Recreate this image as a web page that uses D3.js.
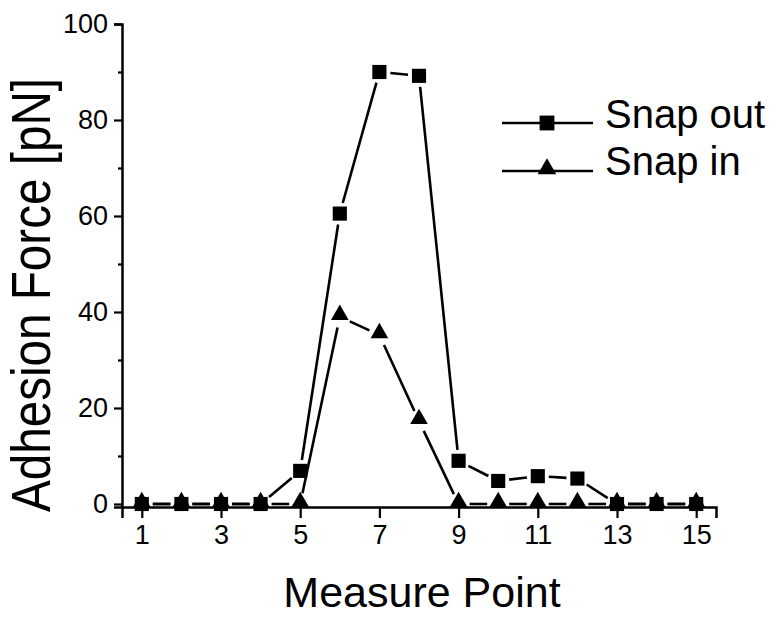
<!DOCTYPE html>
<html>
<head>
<meta charset="utf-8">
<script src="https://cdn.jsdelivr.net/npm/d3@7"></script>
<style>
  html, body { margin: 0; padding: 0; background: #fff; }
  text { font-family: "Liberation Sans", Arial, Helvetica, sans-serif; fill: #000; }
</style>
</head>
<body>
<svg id="chart" width="777" height="617"></svg>
<script>
// ---- data ----
const measurePoints = [1, 2, 3, 4, 5, 6, 7, 8, 9, 10, 11, 12, 13, 14, 15];
const snapOut = [0, 0, 0, 0, 6.9, 60.5, 90.0, 89.2, 9.0, 4.8, 5.8, 5.3, 0, 0, 0];
const snapIn  = [0, 0, 0, 0, 0, 39.0, 35.2, 17.3, 0, 0, 0, 0, 0, 0, 0];
const xTickValues = [1, 3, 5, 7, 9, 11, 13, 15];
const yMajorTicks = [0, 20, 40, 60, 80, 100];
const yMinorTicks = [10, 30, 50, 70, 90];
const seriesNames = ["Snap out", "Snap in"];

const svg = d3.select("#chart");
const W = 777, H = 617;
const margin = {left: 122, right: 61, top: 24, bottom: 110};

const x = d3.scaleLinear().domain([0.5, 15.5]).range([margin.left, W - margin.right]);
const y = d3.scaleLinear().domain([-0.625, 100]).range([H - margin.bottom, margin.top]);

const FONT = "Liberation Sans, Arial, sans-serif";

// ---- axes ----
const xAxis = d3.axisBottom(x).tickValues(xTickValues).tickSize(11).tickPadding(7).tickFormat(d3.format("d"));
const gx = svg.append("g").attr("transform", `translate(0,${y(-0.625)})`).call(xAxis);
gx.select(".domain").attr("stroke", "#000").attr("stroke-width", 2.5);
gx.selectAll(".tick line").attr("stroke", "#000").attr("stroke-width", 2.2);
gx.selectAll(".tick text").attr("font-size", 27).attr("font-family", FONT);

const yAxis = d3.axisLeft(y).tickValues(yMajorTicks).tickSize(8).tickPadding(6).tickFormat(d3.format("d"));
const gy = svg.append("g").attr("transform", `translate(${x(0.5)},0)`).call(yAxis);
gy.select(".domain").attr("stroke", "#000").attr("stroke-width", 2.5);
gy.selectAll(".tick line").attr("stroke", "#000").attr("stroke-width", 2.2);
gy.selectAll(".tick text").attr("font-size", 27).attr("font-family", FONT);

const yMinor = d3.axisLeft(y).tickValues(yMinorTicks).tickSize(4).tickFormat("");
const gym = svg.append("g").attr("transform", `translate(${x(0.5)},0)`).call(yMinor);
gym.select(".domain").remove();
gym.selectAll(".tick line").attr("stroke", "#000").attr("stroke-width", 2.2);

// ---- axis titles ----
svg.append("text")
  .attr("x", 422).attr("y", 607)
  .attr("text-anchor", "middle")
  .attr("font-size", 43)
  .text("Measure Point");

svg.append("text")
  .attr("transform", "translate(50,295) rotate(-90)")
  .attr("text-anchor", "middle")
  .attr("font-size", 56)
  .attr("textLength", 434)
  .attr("lengthAdjust", "spacingAndGlyphs")
  .text("Adhesion Force [pN]");

// ---- series lines with gaps near markers ----
const GAP = 11;
function gappedSegments(values) {
  const pts = measurePoints.map((m, i) => [x(m), y(values[i])]);
  const segs = [];
  for (let i = 0; i < pts.length - 1; i++) {
    const [x0, y0] = pts[i], [x1, y1] = pts[i + 1];
    const dx = x1 - x0, dy = y1 - y0, len = Math.hypot(dx, dy);
    if (len <= 2 * GAP) continue;
    const ux = dx / len, uy = dy / len;
    segs.push([[x0 + ux * GAP, y0 + uy * GAP], [x1 - ux * GAP, y1 - uy * GAP]]);
  }
  return segs;
}
const lineGen = d3.line();

function drawSeries(values, cls) {
  const g = svg.append("g").attr("class", cls);
  g.selectAll("path.seg").data(gappedSegments(values)).enter().append("path")
    .attr("class", "seg")
    .attr("d", d => lineGen(d))
    .attr("stroke", "#000").attr("stroke-width", 2.6).attr("fill", "none");
  return g;
}
drawSeries(snapIn, "snapin");
drawSeries(snapOut, "snapout");

// markers: triangles first, then squares on top
svg.append("g").selectAll("path").data(measurePoints).enter().append("path")
  .attr("transform", (d, i) => `translate(${x(d)},${y(snapIn[i]) - 2})`)
  .attr("d", d3.symbol().type(d3.symbolTriangle).size(135))
  .attr("fill", "#000");
svg.append("g").selectAll("path").data(measurePoints).enter().append("path")
  .attr("transform", (d, i) => `translate(${x(d)},${y(snapOut[i])})`)
  .attr("d", d3.symbol().type(d3.symbolSquare).size(200))
  .attr("fill", "#000");

// ---- legend ----
const legend = svg.append("g");
const legendItems = [
  {name: seriesNames[0], type: d3.symbolSquare, size: 220, ly: 123, ty: 128},
  {name: seriesNames[1], type: d3.symbolTriangle, size: 150, ly: 171, ty: 175}
];
legendItems.forEach(it => {
  legend.append("line")
    .attr("x1", 502).attr("x2", 593).attr("y1", it.ly).attr("y2", it.ly)
    .attr("stroke", "#000").attr("stroke-width", 2.6);
  legend.append("path")
    .attr("transform", `translate(547,${it.ly - (it.type === d3.symbolTriangle ? 2 : 0)})`)
    .attr("d", d3.symbol().type(it.type).size(it.size))
    .attr("fill", "#000");
  legend.append("text")
    .attr("x", 605).attr("y", it.ty)
    .attr("font-size", 40)
    .text(it.name);
});
</script>
</body>
</html>
